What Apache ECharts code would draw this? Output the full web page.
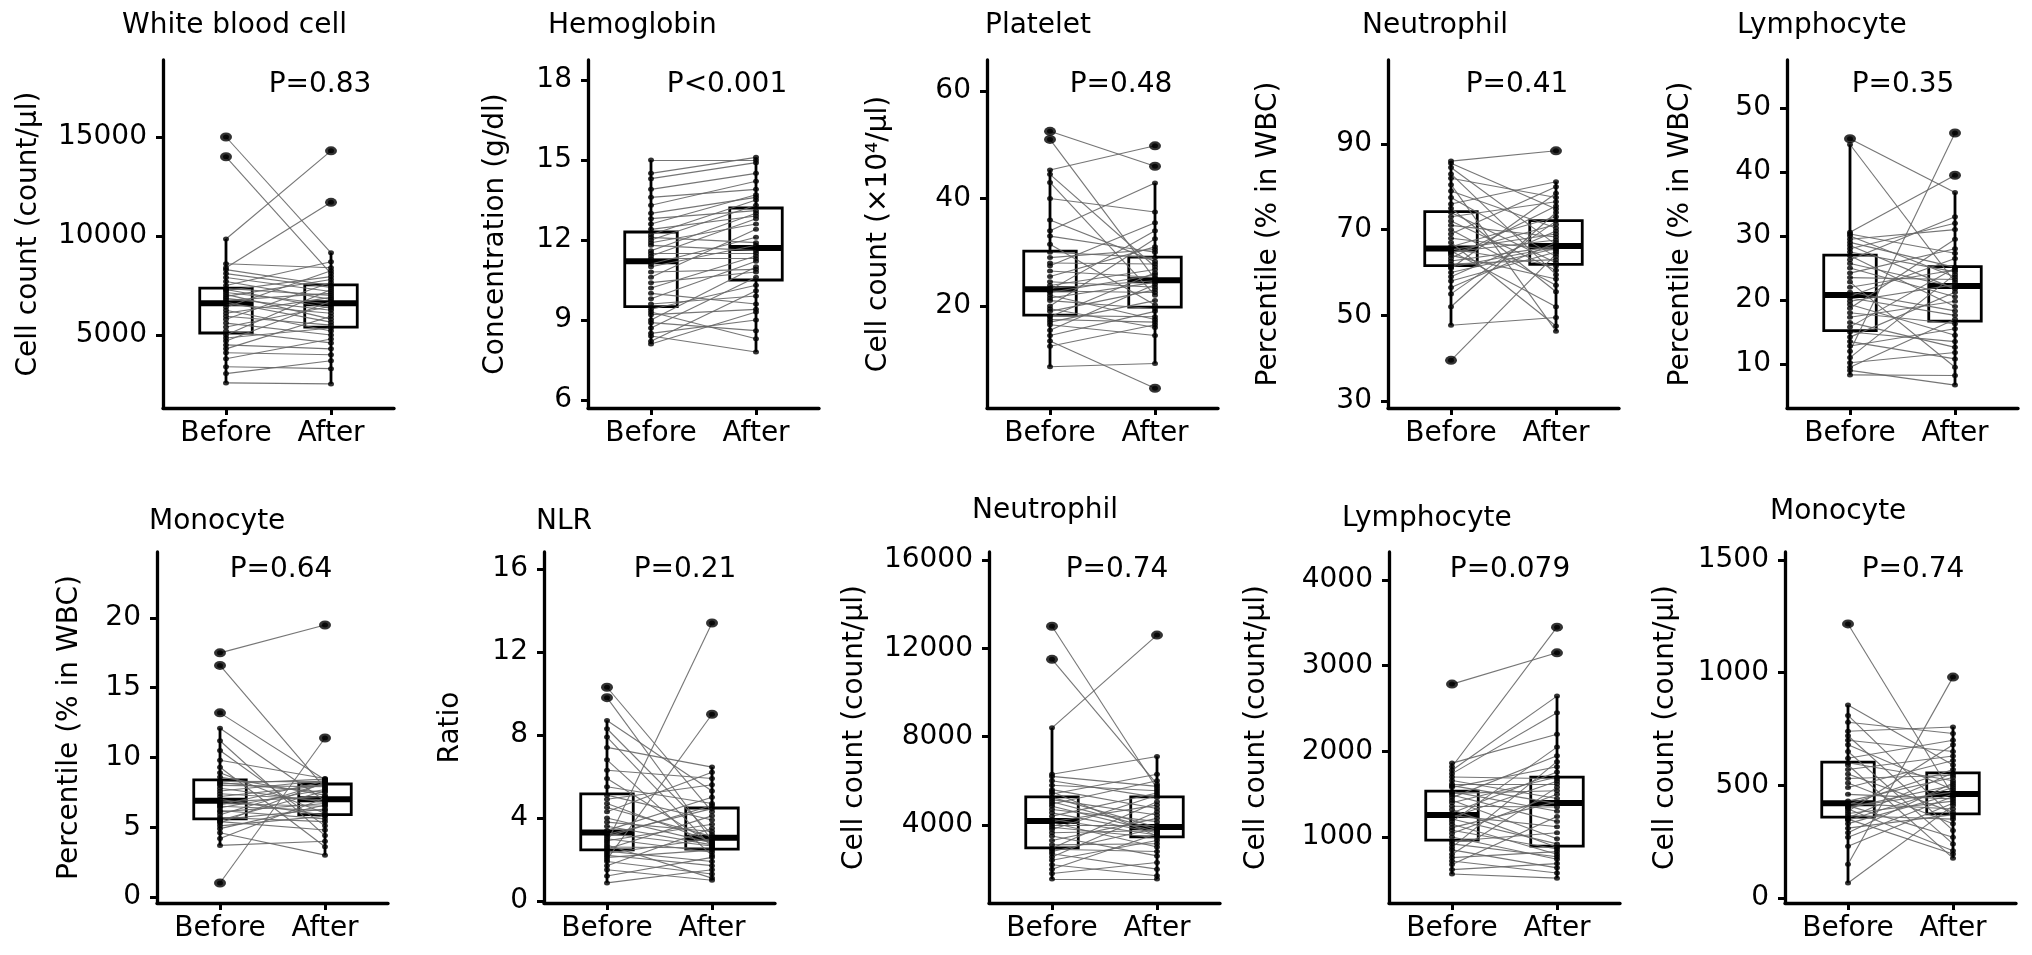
<!DOCTYPE html>
<html><head><meta charset="utf-8">
<script src="https://cdn.jsdelivr.net/npm/echarts@6/dist/echarts.min.js"></script>
<style>html,body{margin:0;padding:0;background:#fff}#c{width:2032px;height:955px}</style>
</head><body><div id="c"></div>
<script>
// ---------- categories and labels ----------
const groups = ['Before', 'After'];
const titles = ['White blood cell', 'Hemoglobin', 'Platelet', 'Neutrophil', 'Lymphocyte',
                'Monocyte', 'NLR', 'Neutrophil', 'Lymphocyte', 'Monocyte'];
const pTexts = ['P=0.83', 'P<0.001', 'P=0.48', 'P=0.41', 'P=0.35',
                'P=0.64', 'P=0.21', 'P=0.74', 'P=0.079', 'P=0.74'];
const yNames = ['Cell count (count/μl)', 'Concentration (g/dl)', 'Cell count (×10⁴/μl)',
                'Percentile (% in WBC)', 'Percentile (% in WBC)', 'Percentile (% in WBC)',
                'Ratio', 'Cell count (count/μl)', 'Cell count (count/μl)', 'Cell count (count/μl)'];

// ---------- tick labels ----------
const wbcTicks = [5000, 10000, 15000];
const hbTicks = [6, 9, 12, 15, 18];
const pltTicks = [20, 40, 60];
const neuPctTicks = [30, 50, 70, 90];
const lymPctTicks = [10, 20, 30, 40, 50];
const monPctTicks = [0, 5, 10, 15, 20];
const nlrTicks = [0, 4, 8, 12, 16];
const neuCntTicks = [4000, 8000, 12000, 16000];
const lymCntTicks = [1000, 2000, 3000, 4000];
const monCntTicks = [0, 500, 1000, 1500];

// ---------- paired values (index k = same subject) ----------
const wbcBefore = [15000,14000,9850,8400,2580,3400,8600,8300,3050,3800,4100,4300,4500,4700,4850,5000,5200,5400,5600,5800,5950,6100,6250,6400,6550,6650,6750,6850,6950,7050,7150,7250,7300,7350,7500,7700,7900,8100];
const wbcAfter  = [9150,8100,14300,11700,2530,3300,8400,7500,3700,4800,4000,5950,4300,6700,5350,7300,4600,6450,5000,7650,5500,6900,5200,8250,6100,5650,7100,6250,7800,5800,6550,7950,6350,7000,8700,6800,7200,7400];

const hbBefore = [8.1,8.2,8.4,8.5,8.7,8.9,9.0,9.2,9.3,9.4,9.6,9.8,10.0,10.2,10.4,10.6,10.8,11.0,11.1,11.3,11.4,11.5,11.6,11.8,11.9,12.0,12.1,12.2,12.4,12.6,12.8,13.0,13.3,13.6,13.9,14.3,14.5,15.0];
const hbAfter  = [9.3,10.1,7.8,9.0,10.6,8.6,11.0,9.4,8.3,10.3,9.9,11.2,9.6,11.4,10.8,12.4,10.9,11.8,12.1,11.3,12.8,11.5,13.0,11.6,12.6,13.3,11.9,13.5,12.9,13.7,13.1,13.6,14.2,13.9,14.5,14.9,15.1,15.0];

const pltBefore = [52.5,51.0,45.3,44.5,43.0,40.0,34.0,33.0,31.5,36.0,13.5,8.7,12.5,14.5,15.5,16.5,17.0,17.5,18.0,18.2,19.0,19.5,20.0,21.0,21.5,22.0,22.5,22.8,23.0,23.3,23.8,24.5,25.5,26.5,27.5,28.0,29.0,30.0];
const pltAfter  = [46.0,25.0,49.8,27.3,22.0,37.5,42.9,30.0,20.2,28.3,4.7,9.3,16.5,19.0,24.0,14.5,21.0,17.0,26.2,18.0,23.0,16.0,32.5,19.5,24.4,17.5,25.8,22.5,34.0,24.7,26.8,23.5,31.0,25.3,35.5,27.8,30.5,29.0];

const neuPctBefore = [86,39.5,47.7,85.5,84.5,83,82,80.5,79,77.5,76,75,74,73,72,71,70,69,68,67,66,65.5,65.3,65.0,64.8,64.5,64,63.3,62.7,62,61.3,61,60,59,58,56.5,55,52];
const neuPctAfter  = [88.4,64.3,49.5,74.8,66.5,59.5,77.5,46.3,70.4,63.7,81.2,55.5,62.3,76.5,60.5,68.3,57,80,65.2,47.5,73,61.5,69,52,67.6,71.2,58.5,75.5,66.1,63,65.9,78.5,65.6,69.7,64.8,67,72,74];

const lymPctBefore = [45.2,44.3,30.6,12.0,8.3,9.0,9.5,10.2,11.0,12.8,13.5,14.2,15.0,15.8,16.5,17.3,18.0,18.7,19.3,19.8,20.3,20.6,21.2,22.0,22.8,23.5,24.2,25.0,25.7,26.3,26.9,27.5,28.0,28.5,29.0,29.5,30.0,30.3];
const lymPctAfter  = [36.8,22.8,39.5,46.1,8.2,6.7,17.0,11.8,24.0,15.5,10.8,21.2,13.5,25.0,12.6,19.8,16.3,29.5,14.5,22.4,17.6,26.5,18.3,24.7,9.5,23.2,28.0,20.5,22.0,33.0,19.0,24.4,32.0,21.7,25.1,31.0,23.6,27.3];

const monPctBefore = [17.5,16.6,13.2,12.1,11.2,10.5,9.8,9.3,8.9,8.6,1.0,3.7,4.2,4.6,4.9,5.1,5.3,5.4,5.5,5.55,5.7,5.9,6.1,6.2,6.4,6.5,6.6,6.7,6.8,7.0,7.2,7.4,7.6,7.8,8.0,8.1,8.2,8.3];
const monPctAfter  = [19.5,7.8,8.4,6.9,4.4,5.1,8.5,3.6,6.0,7.3,11.4,4.0,7.1,3.0,6.6,5.8,8.2,4.8,7.6,6.3,5.4,8.15,6.7,5.6,7.7,6.2,8.3,6.5,7.2,5.85,8.0,6.95,8.35,6.8,7.9,8.45,7.5,8.25];

const nlrBefore = [10.3,9.8,8.7,8.3,7.9,7.4,6.8,6.3,5.9,5.5,2.8,2.0,0.87,1.2,1.5,1.7,1.9,2.1,2.2,2.3,2.4,2.5,2.6,2.7,2.9,3.0,3.1,3.25,3.4,3.6,3.8,4.0,4.3,4.5,4.7,4.9,5.1,3.2];
const nlrAfter  = [4.3,2.9,5.3,3.2,2.6,6.45,2.2,5.9,2.75,4.7,13.4,9.0,1.5,2.1,1.0,3.5,1.3,2.45,1.7,3.0,1.9,4.1,2.55,1.1,3.7,2.35,4.6,2.65,5.0,2.7,3.35,2.8,6.2,3.1,2.85,5.6,3.9,4.45];

const neuCntBefore = [13000,11500,8400,6300,1550,1800,2000,2200,2400,2550,2700,2800,2900,2950,3100,3300,3500,3650,3800,3900,4000,4100,4150,4250,4400,4550,4700,4850,4950,5050,5150,5250,5400,5500,5600,5800,6000,6200];
const neuCntAfter  = [5650,5850,12600,7100,1550,2300,3600,1700,3300,4600,2000,3850,2800,5050,3150,4300,2600,3750,5350,3420,4000,3000,4900,3550,5450,3650,4150,3700,6000,3800,4450,3900,6300,3500,4750,5550,5250,5750];

const lymCntBefore = [2785,1820,1863,1780,568,620,680,720,760,800,850,880,920,950,1000,1040,1080,1110,1150,1180,1210,1230,1250,1280,1320,1360,1400,1430,1460,1490,1510,1530,1580,1600,1620,1660,1700,1740];
const lymCntAfter  = [3150,3450,2200,2645,520,690,1240,580,830,1580,640,1880,770,1050,740,1500,860,1410,800,2050,920,1650,1120,1760,880,1350,1700,980,1950,1180,1540,1300,1820,1390,1620,1450,1680,2450];

const monCntBefore = [1216,150,67,856,810,780,740,720,700,680,650,620,600,590,570,550,530,510,490,460,430,420,415,410,405,400,395,385,375,365,355,350,345,330,310,290,270,230];
const monCntAfter  = [455,980,410,590,360,730,759,300,650,480,240,700,520,177,630,380,545,330,610,440,535,395,570,270,470,500,210,680,430,350,555,195,490,460,370,510,450,420];

// ---------- box statistics: [lower whisker, Q1, median, Q3, upper whisker] ----------
const wbcBox    = [[2580,5100,6600,7370,9850],[2530,5400,6600,7530,9150]];
const hbBox     = [[8.1,9.5,11.2,12.3,15.0],[7.8,10.5,11.7,13.2,15.1]];
const pltBox    = [[8.7,18.3,23.1,30.2,45.3],[9.3,19.8,24.8,29.1,42.9]];
const neuPctBox = [[47.7,61.6,65.6,74.2,86.0],[46.3,61.9,66.2,72.1,81.2]];
const lymPctBox = [[8.3,15.2,20.8,27.0,44.3],[6.7,16.7,22.2,25.2,36.8]];
const monPctBox = [[3.7,5.6,6.9,8.4,12.1],[3.0,5.9,7.0,8.1,8.5]];
const nlrBox    = [[0.87,2.46,3.3,5.16,8.7],[1.0,2.5,3.04,4.48,6.45]];
const neuCntBox = [[1550,2960,4180,5270,8400],[1550,3460,3910,5270,7100]];
const lymCntBox = [[568,965,1257,1537,1863],[520,895,1397,1700,2645]];
const monCntBox = [[67,359,421,603,856],[177,373,461,555,759]];

const panelData = [
  [wbcBefore, wbcAfter, wbcBox, wbcTicks],
  [hbBefore, hbAfter, hbBox, hbTicks],
  [pltBefore, pltAfter, pltBox, pltTicks],
  [neuPctBefore, neuPctAfter, neuPctBox, neuPctTicks],
  [lymPctBefore, lymPctAfter, lymPctBox, lymPctTicks],
  [monPctBefore, monPctAfter, monPctBox, monPctTicks],
  [nlrBefore, nlrAfter, nlrBox, nlrTicks],
  [neuCntBefore, neuCntAfter, neuCntBox, neuCntTicks],
  [lymCntBefore, lymCntAfter, lymCntBox, lymCntTicks],
  [monCntBefore, monCntAfter, monCntBox, monCntTicks]
];

// ---------- layout (pixels) and axis ranges ----------
const layout = [
  {left:163, top:60,  h:348, ymin:1313,  ymax:18889, gap:120, tx:122,  ty:26,  px:320,  py:85},
  {left:588, top:60,  h:348, ymin:5.7,   ymax:18.75, gap:78,  tx:548,  ty:26,  px:727,  py:85},
  {left:987, top:60,  h:348, ymin:1.02,  ymax:65.77, gap:94,  tx:985,  ty:26,  px:1121, py:85},
  {left:1388,top:60,  h:348, ymin:28.37, ymax:109.6, gap:105, tx:1362, ty:26,  px:1517, py:85},
  {left:1787,top:60,  h:348, ymin:3.125, ymax:57.5,  gap:92,  tx:1737, ty:26,  px:1903, py:85},
  {left:157, top:552, h:351, ymin:-0.43, ymax:24.73, gap:73,  tx:149,  ty:522, px:281,  py:570},
  {left:544, top:552, h:351, ymin:-0.1,  ymax:16.82, gap:79,  tx:536,  ty:522, px:685,  py:570},
  {left:989, top:552, h:351, ymin:467,   ymax:16362, gap:120, tx:972,  ty:511, px:1117, py:570},
  {left:1389,top:552, h:351, ymin:230,   ymax:4327,  gap:118, tx:1342, ty:519, px:1510, py:570},
  {left:1785,top:552, h:351, ymin:-22,   ymax:1535,  gap:105, tx:1770, ty:512, px:1913, py:570}
];
const panelWidth = 231;
const FONT = '"DejaVu Sans", sans-serif';
const ELLIPSE = 'path://M0,50 A50,50 0 1,1 100,50 A50,50 0 1,1 0,50 Z';

function renderBox(params, api) {
  const x = api.value(0);
  const lo = api.coord([x, api.value(1)]);
  const q1 = api.coord([x, api.value(2)]);
  const md = api.coord([x, api.value(3)]);
  const q3 = api.coord([x, api.value(4)]);
  const hi = api.coord([x, api.value(5)]);
  const w = api.size([0.5, 0])[0];
  const cx = q1[0];
  const st = {stroke:'#000', lineWidth:2.8, fill:null};
  return {type:'group', children:[
    {type:'line', shape:{x1:cx, y1:hi[1], x2:cx, y2:q3[1]}, style:st},
    {type:'line', shape:{x1:cx, y1:q1[1], x2:cx, y2:lo[1]}, style:st},
    {type:'rect', shape:{x:cx - w/2, y:q3[1], width:w, height:q1[1] - q3[1]}, style:st},
    {type:'line', shape:{x1:cx - w/2, y1:md[1], x2:cx + w/2, y2:md[1]}, style:{stroke:'#000', lineWidth:6}}
  ]};
}

const grid = [], xAxis = [], yAxis = [], series = [], graphic = [];
layout.forEach((L, i) => {
  const [bef, aft, box, ticks] = panelData[i];
  grid.push({left:L.left, top:L.top, width:panelWidth, height:L.h});
  xAxis.push({
    gridIndex:i, type:'value', min:0.4, max:2.6,
    axisLine:{show:true, onZero:false, lineStyle:{color:'#000', width:3.3}},
    axisTick:{show:true, customValues:[1,2], length:7, lineStyle:{color:'#000', width:3}},
    axisLabel:{customValues:[1,2], formatter:(v) => groups[Math.round(v) - 1], fontSize:28, color:'#000', margin:12, fontFamily:FONT},
    splitLine:{show:false}
  });
  yAxis.push({
    gridIndex:i, type:'value', min:L.ymin, max:L.ymax,
    axisLine:{show:true, onZero:false, lineStyle:{color:'#000', width:3.3}},
    axisTick:{show:true, customValues:ticks, length:7, lineStyle:{color:'#000', width:3}},
    axisLabel:{customValues:ticks, formatter:(v) => String(v), fontSize:28, color:'#000', margin:16, fontFamily:FONT},
    splitLine:{show:false},
    name:yNames[i], nameLocation:'middle', nameGap:L.gap,
    nameTextStyle:{fontSize:28, color:'#000', fontFamily:FONT}
  });
  series.push({
    type:'custom', xAxisIndex:i, yAxisIndex:i, renderItem:renderBox, silent:true, z:2,
    encode:{x:0, y:[1,2,3,4,5]},
    data:[[1].concat(box[0]), [2].concat(box[1])]
  });
  series.push({
    type:'lines', coordinateSystem:'cartesian2d', xAxisIndex:i, yAxisIndex:i, silent:true, z:3,
    lineStyle:{color:'#666', width:1.1, opacity:0.9},
    data:bef.map((b, k) => ({coords:[[1, b], [2, aft[k]]]}))
  });
  const pts = bef.map(v => [1, v]).concat(aft.map(v => [2, v]));
  series.push({
    type:'scatter', xAxisIndex:i, yAxisIndex:i, silent:true, z:4,
    symbol:ELLIPSE, symbolSize:[6, 5], itemStyle:{color:'#000'}, data:pts
  });
  const isOut = (p) => { const b = box[p[0] - 1]; return p[1] > b[4] || p[1] < b[0]; };
  series.push({
    type:'scatter', xAxisIndex:i, yAxisIndex:i, silent:true, z:5,
    symbol:ELLIPSE, symbolSize:[12, 9], itemStyle:{color:'#000'}, data:pts.filter(isOut)
  });
  graphic.push({type:'text', x:L.tx, y:L.ty, style:{text:titles[i], fontSize:28, fontFamily:FONT, fill:'#000', align:'left', verticalAlign:'middle'}});
  graphic.push({type:'text', x:L.px, y:L.py, style:{text:pTexts[i], fontSize:28, fontFamily:FONT, fill:'#000', align:'center', verticalAlign:'middle'}});
});

const chart = echarts.init(document.getElementById('c'), null, {renderer:'canvas'});
chart.setOption({
  backgroundColor:'#fff', animation:false,
  textStyle:{fontFamily:FONT},
  grid, xAxis, yAxis, series, graphic
});
</script>
</body></html>
